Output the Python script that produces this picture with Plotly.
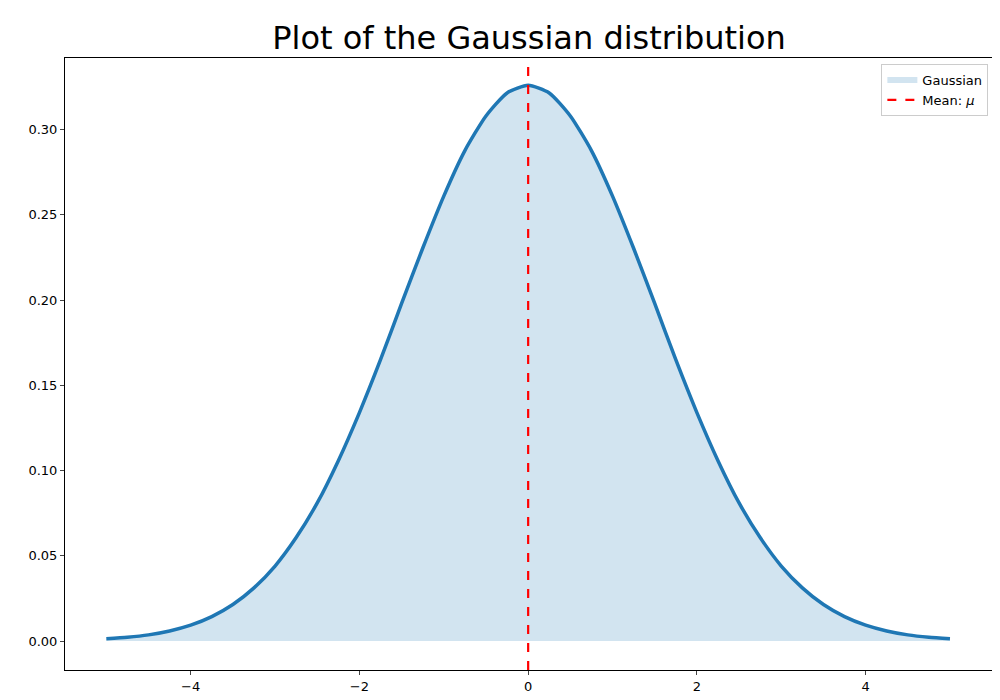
import plotly.graph_objects as go

x_vals = [-5, -4.75, -4.5, -4.25, -4, -3.75, -3.5, -3.25, -3, -2.75, -2.5, -2.25, -2, -1.75, -1.5, -1.25,
          -1, -0.75, -0.5, -0.25, 0, 0.25, 0.5, 0.75, 1, 1.25, 1.5, 1.75, 2, 2.25, 2.5, 2.75, 3,
          3.25, 3.5, 3.75, 4, 4.25, 4.5, 4.75, 5]
y_right = [0.326, 0.3215, 0.308, 0.2877, 0.261, 0.2304, 0.198, 0.165, 0.134, 0.1058, 0.081, 0.0607,
           0.044, 0.0312, 0.0214, 0.0143, 0.0093, 0.0059, 0.0036, 0.0022, 0.0013]
y_vals = y_right[::-1] + y_right[1:]
mean_x = 0
y_ticks = [0.0, 0.05, 0.10, 0.15, 0.20, 0.25, 0.30]
x_ticks = [-4, -2, 0, 2, 4]

fig = go.Figure()
fig.add_trace(go.Scatter(x=x_vals, y=y_vals, fill="tozeroy", mode="none",
                         fillcolor="rgba(31,119,180,0.2)", name="Gaussian"))
fig.add_trace(go.Scatter(x=x_vals, y=y_vals, mode="lines", line=dict(color="#1f77b4", width=3.5, shape="spline", smoothing=0.6),
                         showlegend=False))
fig.add_trace(go.Scatter(x=[mean_x, mean_x], y=[-0.017, 0.342], mode="lines",
                         line=dict(color="red", width=2.2, dash="dash"), name="Mean: <i>μ</i>"))

fig.update_layout(
    width=1000, height=700, plot_bgcolor="white", paper_bgcolor="white",
    margin=dict(l=57, r=15, t=50, b=38, autoexpand=False),
    font=dict(family="DejaVu Sans", size=13, color="black"),
    title=dict(text="Plot of the Gaussian distribution", x=0.521, xanchor="center", y=0.957, yanchor="middle",
               font=dict(size=32)),
    legend=dict(x=0.995, y=0.99, xanchor="right", yanchor="top", bordercolor="#cccccc",
                borderwidth=1, bgcolor="white", font=dict(size=13)),
    xaxis=dict(range=[-5.49, 5.51], tickvals=x_ticks, ticktext=["−4", "−2", "0", "2", "4"],
               showgrid=False, zeroline=False, showline=True, linecolor="black", mirror=True,
               ticks="outside", ticklen=4, automargin=False),
    yaxis=dict(range=[-0.017, 0.342], tickvals=y_ticks, tickformat=".2f",
               showgrid=False, zeroline=False, showline=True, linecolor="black", mirror=True,
               ticks="outside", ticklen=4, automargin=False),
)
fig.write_html("out.html")
